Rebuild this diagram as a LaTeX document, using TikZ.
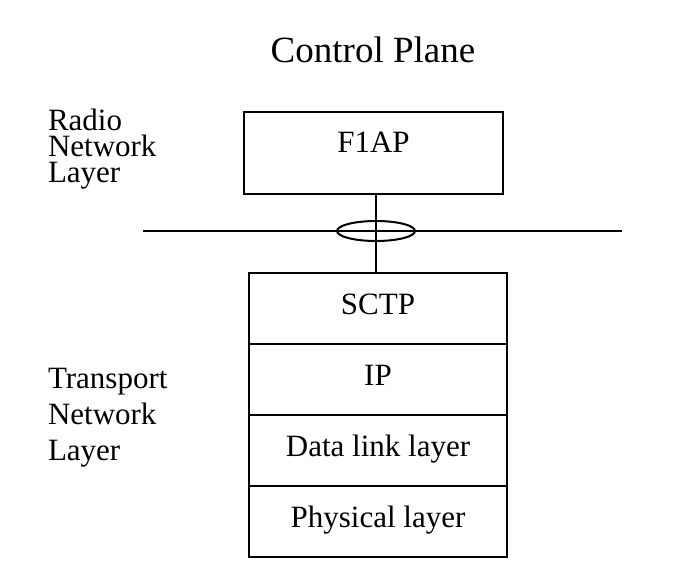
\documentclass[tikz,border=0pt]{standalone}
\usepackage{fontspec}
\setmainfont{Liberation Serif}
\usetikzlibrary{positioning,shapes.geometric}
\tikzset{
  layerbox/.style={draw, line width=2bp, outer sep=0pt, inner sep=0pt,
    minimum width=258bp, minimum height=71bp, text height=12bp, text depth=0pt},
  sidetext/.style={align=left, anchor=base west, inner sep=0pt}
}
\begin{document}
\begin{tikzpicture}[x=1bp, y=-1bp, line width=2bp, font=\fontsize{31bp}{26bp}\selectfont]
\useasboundingbox (0,0) rectangle (689,581);
\node[font=\fontsize{37bp}{40bp}\selectfont, anchor=base, inner sep=0pt] (title) at (373,63) {Control Plane};
\node[sidetext] (rnl) at (47,183) {Radio\\Network\\Layer};
\node[sidetext, font=\fontsize{31bp}{36bp}\selectfont] (tnl) at (47,460) {Transport\\Network\\Layer};
% radio network layer
\node[layerbox, minimum width=259bp, minimum height=82bp, text height=0pt] (f1ap) at (373.5,153) {F1AP};
% transport network layer
\node[layerbox] (sctp) at (378,308) {SCTP};
\node[layerbox, below=0pt of sctp] (ip) {IP};
\node[layerbox, below=0pt of ip] (dll) {Data link layer};
\node[layerbox, below=0pt of dll] (phy) {Physical layer};
% border between the layers
\coordinate (bl) at (143,231);
\coordinate (br) at (622,231);
\draw (bl) -- (br);
\node[draw, ellipse, inner sep=0pt, minimum width=78bp, minimum height=20bp] (ring) at (376,231) {};
\draw (ring.center |- f1ap.south) -- (ring.center |- sctp.north);
\end{tikzpicture}
\end{document}
